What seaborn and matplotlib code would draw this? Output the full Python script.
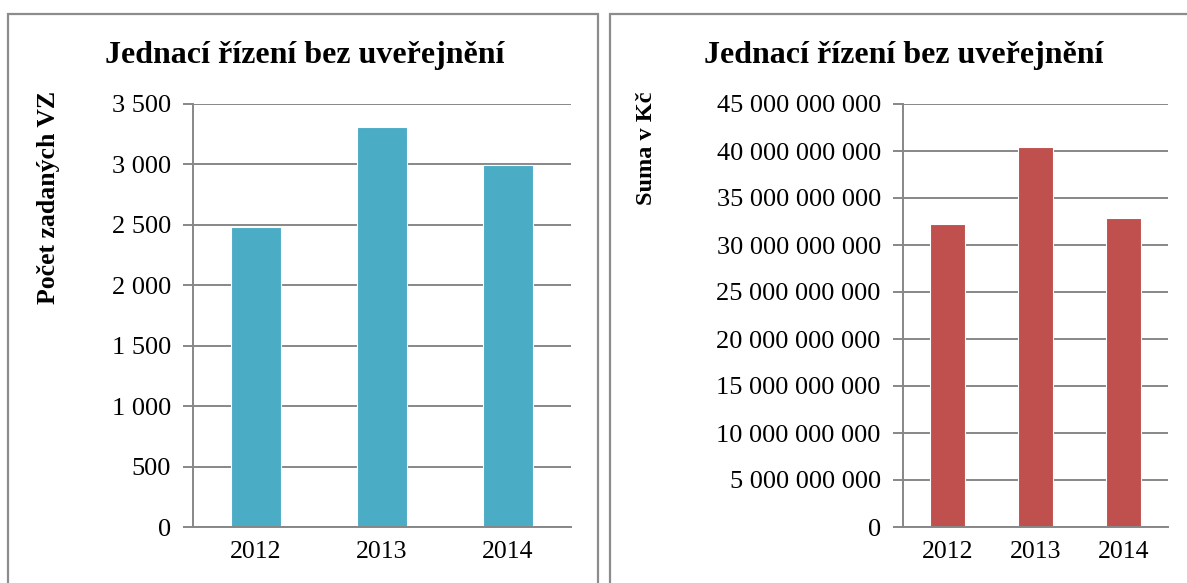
import matplotlib
matplotlib.use("Agg")
import matplotlib.pyplot as plt
import seaborn as sns
import pandas as pd
from matplotlib.ticker import FuncFormatter, MultipleLocator
from matplotlib.patches import Rectangle

years = ["2012", "2013", "2014"]
pocet_vz = [2480, 3313, 2994]
suma_kc = [32.2e9, 40.4e9, 32.9e9]
title_text = "Jednací řízení bez uveřejnění"
ylabel_left = "Počet zadaných VZ"
ylabel_right = "Suma v Kč"

sns.set_theme(style="white")
plt.rcParams['font.family'] = ['Liberation Serif', 'DejaVu Serif']
plt.rcParams['text.color'] = 'black'
plt.rcParams['axes.labelcolor'] = 'black'

fig = plt.figure(figsize=(11.87, 5.83), dpi=100)

W, H = 1187, 583
def fx(px): return px / W
def fy(py): return 1 - py / H

grid_c = "#878787"

def fmt(v, pos):
    return f"{int(round(v)):,}".replace(",", " ")

def make(ax, vals, color, step, top):
    df = pd.DataFrame({"rok": years, "v": vals})
    sns.barplot(data=df, x="rok", y="v", color=color, width=0.4, ax=ax,
                saturation=1, edgecolor="white", linewidth=0.8)
    ax.set_ylim(0, top)
    ax.yaxis.set_major_locator(MultipleLocator(step))
    ax.yaxis.set_major_formatter(FuncFormatter(fmt))
    ax.grid(axis="y", color=grid_c, linewidth=1.4)
    ax.set_axisbelow(True)
    for s in ["top", "right"]:
        ax.spines[s].set_visible(False)
    for s in ["left", "bottom"]:
        ax.spines[s].set_color(grid_c)
        ax.spines[s].set_linewidth(1.4)
    ax.set_xlim(-0.5, 2.5)
    ax.set_xticks([-0.5, 0.5, 1.5, 2.5], minor=False)
    ax.set_xticklabels([])
    ax.set_xticks([0, 1, 2], minor=True)
    ax.set_xticklabels(years, minor=True)
    ax.tick_params(axis="x", which="major", length=7, width=1.4, color=grid_c, direction="out")
    ax.tick_params(axis="x", which="minor", length=0, pad=10, labelsize=18.5, labelcolor="black")
    ax.tick_params(axis="y", length=7, width=1.4, color=grid_c, direction="out", pad=9,
                   labelsize=19, labelcolor="black", left=True)
    ax.set_xlabel("")

axL = fig.add_axes([fx(193), fy(527), fx(571) - fx(193), fy(104) - fy(527)])
make(axL, pocet_vz, "#4BACC6", 500, 3500)
axL.set_ylabel(ylabel_left, fontsize=18.5, fontweight="bold")
axL.yaxis.set_label_coords(-0.352, 0.780)

axR = fig.add_axes([fx(903), fy(527), fx(1168) - fx(903), fy(104) - fy(527)])
make(axR, suma_kc, "#C0504D", 5e9, 45e9)
axR.set_ylabel(ylabel_right, fontsize=17.5, fontweight="bold")
axR.yaxis.set_label_coords(-0.930, 0.895)

fig.text(fx(305), fy(55), title_text, ha="center", va="center", fontsize=23, fontweight="bold")
fig.text(fx(904), fy(55), title_text, ha="center", va="center", fontsize=23, fontweight="bold")

# panel frames
fig.patches.append(Rectangle((fx(8), fy(600)), fx(598) - fx(8), fy(14) - fy(600),
                             transform=fig.transFigure, fill=False, edgecolor="#8c8c8c",
                             linewidth=1.6, clip_on=False))
fig.patches.append(Rectangle((fx(610), fy(600)), fx(1200) - fx(610), fy(14) - fy(600),
                             transform=fig.transFigure, fill=False, edgecolor="#8c8c8c",
                             linewidth=1.6, clip_on=False))

fig.savefig("out.png", dpi=100)
